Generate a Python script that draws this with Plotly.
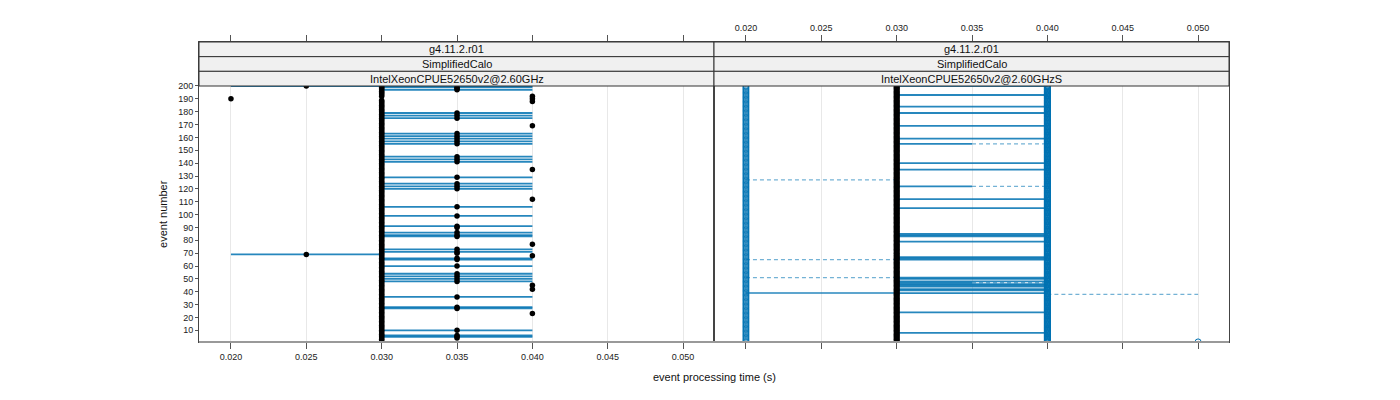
import plotly.graph_objects as go

# ---------------- data ----------------
x_ticks = [0.020, 0.025, 0.030, 0.035, 0.040, 0.045, 0.050]
x_tick_labels = ["0.020", "0.025", "0.030", "0.035", "0.040", "0.045", "0.050"]
y_ticks = list(range(10, 201, 10))

strip_rows = ["g4.11.2.r01", "SimplifiedCalo"]
left_strip = "IntelXeonCPUE52650v2@2.60GHz"
right_strip = "IntelXeonCPUE52650v2@2.60GHzS"

# left panel: event numbers at each processing time (black points)
left_evt_020 = [190]
left_evt_025 = [200, 69]
left_evt_030 = [e for e in range(1, 201) if e not in (190, 191)]
left_evt_035 = [197, 198, 199, 175, 177, 179, 155, 157, 159, 161, 163, 141, 143, 145,
                129, 120, 122, 124, 106, 99, 90, 91, 83, 84, 86, 70, 71, 73, 65, 66,
                60, 48, 50, 52, 54, 36, 27, 28, 10, 4, 5, 6]
left_evt_040 = [188, 190, 192, 169, 135, 112, 77, 68, 45, 42, 23]

# left panel: blue connecting lines (start time, end time, event)
left_line_evt = [199, 197, 179, 177, 175, 163, 161, 159, 157, 155, 145, 143, 141, 129,
                 124, 122, 120, 106, 99, 91, 86, 84, 83, 73, 71, 66, 65, 60, 54, 52,
                 50, 48, 36, 28, 27, 10, 6, 5]
left_line_start = 0.030
left_line_end = 0.040
left_long_evt = [200, 69]
left_long_start = [0.020, 0.020]
left_long_end = [0.040, 0.030]

# right panel points
right_evt_020 = list(range(1, 201))
right_evt_030 = list(range(1, 201))
right_evt_040 = list(range(1, 201))
right_evt_050 = [1]

# right panel lines
right_solid_evt = [200, 193, 184, 179, 169, 159, 140, 135, 112, 105, 85, 84, 83, 79,
                   67, 66, 65, 51, 50, 48, 46, 45, 44, 42, 41, 39, 24, 8]
right_half_evt = [155, 122, 47]          # solid 0.030-0.035 then dashed to 0.040
right_dash_low_evt = [127, 65, 51]       # dashed 0.020-0.030
right_solid_low_evt = [39]               # solid 0.020-0.030
right_dash_high_evt = [38]               # dashed 0.040-0.050

BLUE = "#0072B2"
LINE = "rgba(0,114,178,0.85)"
DASH = "rgba(0,114,178,0.55)"
FONT = "Liberation Sans, Arial, sans-serif"


def segs(evts, x0, x1):
    xs, ys = [], []
    x0s = x0 if isinstance(x0, list) else [x0] * len(evts)
    x1s = x1 if isinstance(x1, list) else [x1] * len(evts)
    for e, a, b in zip(evts, x0s, x1s):
        xs += [a, b, None]
        ys += [e, e, None]
    return xs, ys


fig = go.Figure()

# ---- left panel lines ----
for evts, a, b in [(left_line_evt, left_line_start, left_line_end),
                   (left_long_evt, left_long_start, left_long_end)]:
    xs, ys = segs(evts, a, b)
    fig.add_trace(go.Scatter(x=xs, y=ys, mode="lines", xaxis="x", yaxis="y",
                             line=dict(color=LINE, width=1.8), hoverinfo="skip"))

# ---- left panel points ----
for t, evts in [(0.020, left_evt_020), (0.025, left_evt_025), (0.030, left_evt_030),
                (0.035, left_evt_035), (0.040, left_evt_040)]:
    fig.add_trace(go.Scatter(x=[t] * len(evts), y=evts, mode="markers", xaxis="x", yaxis="y",
                             marker=dict(color="black", size=5.5, line=dict(width=0))))

# ---- right panel lines ----
xs, ys = segs(right_solid_evt, 0.030, 0.040)
fig.add_trace(go.Scatter(x=xs, y=ys, mode="lines", xaxis="x2", yaxis="y2",
                         line=dict(color=LINE, width=1.8), hoverinfo="skip"))
xs, ys = segs(right_half_evt, 0.030, 0.035)
fig.add_trace(go.Scatter(x=xs, y=ys, mode="lines", xaxis="x2", yaxis="y2",
                         line=dict(color=LINE, width=1.8), hoverinfo="skip"))
xs, ys = segs(right_solid_low_evt, 0.020, 0.030)
fig.add_trace(go.Scatter(x=xs, y=ys, mode="lines", xaxis="x2", yaxis="y2",
                         line=dict(color=LINE, width=1.4), hoverinfo="skip"))
for evts, a, b in [(right_half_evt, 0.035, 0.040), (right_dash_low_evt, 0.020, 0.030),
                   (right_dash_high_evt, 0.040, 0.050)]:
    xs, ys = segs(evts, a, b)
    fig.add_trace(go.Scatter(x=xs, y=ys, mode="lines", xaxis="x2", yaxis="y2",
                             line=dict(color=DASH, width=1.3, dash="4px,3px"), hoverinfo="skip"))

# ---- right panel points ----
fig.add_trace(go.Scatter(x=[0.030] * len(right_evt_030), y=right_evt_030, mode="markers",
                         xaxis="x2", yaxis="y2",
                         marker=dict(color="black", size=6, line=dict(width=0))))
for t, evts, lw in [(0.020, right_evt_020, 0.8), (0.040, right_evt_040, 1.2),
                    (0.050, right_evt_050, 1.0)]:
    fig.add_trace(go.Scatter(x=[t] * len(evts), y=evts, mode="markers", xaxis="x2", yaxis="y2",
                             marker=dict(symbol="circle-open", color=BLUE, size=6,
                                         line=dict(width=lw, color=BLUE))))

x_range = [0.01788, 0.05205]
y_range = [0.93, 234.2]
axis_common = dict(range=x_range, tickvals=x_ticks, ticktext=x_tick_labels,
                   showgrid=True, gridcolor="#e8e8e8", gridwidth=1, zeroline=False,
                   showline=True, linecolor="#444", linewidth=1, mirror="ticks",
                   ticks="outside", ticklen=6, tickcolor="#555",
                   tickfont=dict(family=FONT, size=9, color="#222"))

fig.update_layout(
    width=1400, height=400,
    margin=dict(l=191, r=179, t=34, b=66),
    paper_bgcolor="white", plot_bgcolor="white",
    showlegend=False,
    xaxis=dict(domain=[0, 0.5], anchor="y", side="bottom", **axis_common),
    xaxis2=dict(domain=[0.5, 1], anchor="y2", side="top", **axis_common),
    yaxis=dict(domain=[0, 1], anchor="x", range=y_range, tickvals=y_ticks,
               showgrid=False, zeroline=False, showline=True, linecolor="#444",
               linewidth=1, mirror=True, ticks="outside", ticklen=3, tickcolor="#555",
               tickfont=dict(family=FONT, size=9, color="#222")),
    yaxis2=dict(domain=[0, 1], anchor="x2", range=y_range, showticklabels=False,
                showgrid=False, zeroline=False, showline=True, linecolor="#444",
                linewidth=1, mirror=True, ticks=""),
)

# strips (three rows over each panel)
edges = [1.0, 0.9511, 0.9022, 0.8533]
shapes = []
annotations = []
for (x0, x1, last) in [(0, 0.5, left_strip), (0.5, 1, right_strip)]:
    labels = strip_rows + [last]
    for i, lab in enumerate(labels):
        shapes.append(dict(type="rect", xref="paper", yref="paper", x0=x0, x1=x1,
                           y0=edges[i + 1], y1=edges[i], fillcolor="#f0f0f0",
                           line=dict(color="#333", width=1), layer="above"))
        annotations.append(dict(xref="paper", yref="paper", x=(x0 + x1) / 2,
                                y=(edges[i] + edges[i + 1]) / 2, text=lab, showarrow=False,
                                font=dict(family=FONT, size=11, color="#111"),
                                xanchor="center", yanchor="middle"))
# gray bottom axis line
shapes.append(dict(type="line", xref="paper", yref="paper", x0=0, x1=1, y0=0, y1=0,
                   line=dict(color="#999", width=2), layer="above"))

annotations.append(dict(xref="paper", yref="paper", x=0.5, y=-0.117, text="event processing time (s)",
                        showarrow=False, font=dict(family=FONT, size=11, color="#111"),
                        xanchor="center", yanchor="middle"))
annotations.append(dict(xref="paper", yref="paper", x=-0.035, y=0.4267, text="event number",
                        textangle=-90, showarrow=False,
                        font=dict(family=FONT, size=11, color="#111"),
                        xanchor="center", yanchor="middle"))

fig.update_layout(shapes=shapes, annotations=annotations)

fig.write_html("out.html")
